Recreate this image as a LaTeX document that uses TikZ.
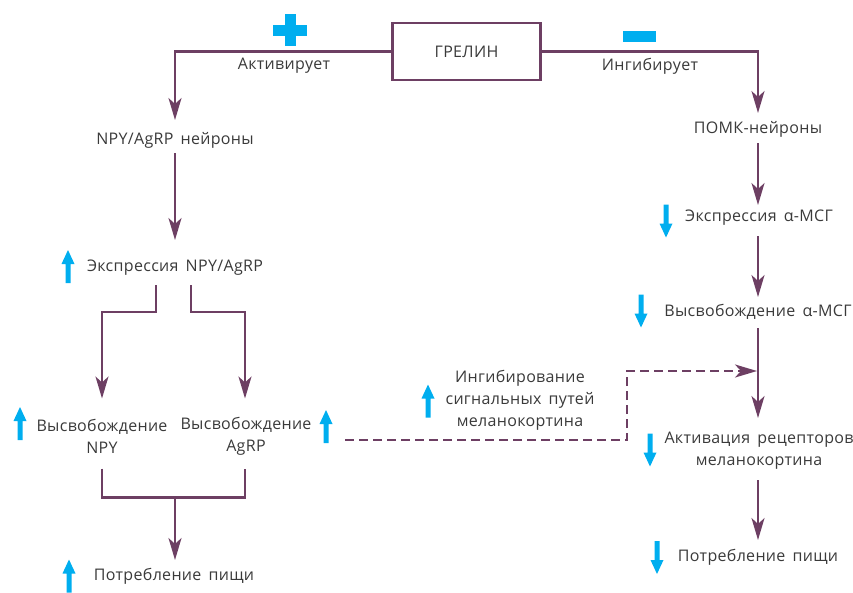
\documentclass[tikz,border=0pt]{standalone}
\usepackage{fontspec}
\setmainfont{Open Sans}[LetterSpace=2.0,WordSpace=1.6]
\usetikzlibrary{arrows.meta}
\definecolor{plum}{HTML}{6D3F63}
\definecolor{sky}{HTML}{00AEEF}
\definecolor{txt}{HTML}{3A3A3A}
\begin{document}
\begin{tikzpicture}[x=1pt,y=-1pt,
  lbl/.style={font=\fontsize{16}{22}\selectfont, text=txt, inner sep=0pt, align=center},
  flow/.style={draw=plum, line width=2.2pt, -{Stealth[length=22pt,width=13pt,inset=6pt]}},
  link/.style={draw=plum, line width=2.2pt},
  dashflow/.style={draw=plum, line width=2.4pt, dash pattern=on 9pt off 5pt, -{Stealth[length=22pt,width=13pt,inset=6pt]}},
  uparr/.pic={\fill[sky] (0,-16.5) -- (6.5,-2.5) -- (2.5,-2.5) -- (2.5,16.5) -- (-2.5,16.5) -- (-2.5,-2.5) -- (-6.5,-2.5) -- cycle;},
  downarr/.pic={\fill[sky] (0,16.5) -- (6.5,2.5) -- (2.5,2.5) -- (2.5,-16.5) -- (-2.5,-16.5) -- (-2.5,2.5) -- (-6.5,2.5) -- cycle;}
]
\useasboundingbox (0,0) rectangle (853,592);

% top
\node[lbl, draw=plum, line width=2.6pt, minimum width=148pt, minimum height=57pt] (ghrelin) at (466.5,51.5) {ГРЕЛИН};
\fill[sky] (273,25) rectangle (307,36);
\fill[sky] (284.5,14) rectangle (295.5,46);
\fill[sky] (623,31) rectangle (656,42);
\node[lbl] (act1) at (284,66) {Активирует};
\node[lbl] (inh1) at (650,66) {Ингибирует};

% left column
\node[lbl] (npy) at (175,140) {NPY/AgRP нейроны};
\node[lbl] (expL) at (175,268) {Экспрессия NPY/AgRP};
\node[lbl] (relNPY) at (102,436.5) {Высвобождение\\NPY};
\node[lbl] (relAgRP) at (246,436.5) {Высвобождение\\AgRP};
\node[lbl] (foodL) at (174,576) {Потребление пищи};

% right column
\node[lbl] (pomc) at (758,129) {ПОМК-нейроны};
\node[lbl] (expR) at (759,218) {Экспрессия α-МСГ};
\node[lbl] (relR) at (758,312) {Высвобождение α-МСГ};
\node[lbl] (act) at (759,451) {Активация рецепторов\\меланокортина};
\node[lbl] (foodR) at (758,557) {Потребление пищи};

% middle
\node[lbl] (inhib) at (520,400) {Ингибирование\\сигнальных путей\\меланокортина};

% cyan arrows
\pic at (68,266.5) {uparr};
\pic at (20,423.5) {uparr};
\pic at (326,426.5) {uparr};
\pic at (69,576) {uparr};
\pic at (428,401) {uparr};
\pic at (666,221) {downarr};
\pic at (641,311) {downarr};
\pic at (650,450) {downarr};
\pic at (657,557.5) {downarr};

% connectors
\draw[flow] (ghrelin.west) -| ([yshift=20pt]npy.center);
\draw[flow] (ghrelin.east) -| ([yshift=16pt]pomc.center);
\draw[flow] ([yshift=-13pt]npy.center) -- ([yshift=28pt]npy.center |- expL.center);
\draw[flow] ([yshift=-14pt]pomc.center) -- ([yshift=13pt]pomc.center |- expR.center);
\draw[flow] ([yshift=-18pt]relR.center |- expR.center) -- ([yshift=15pt]relR.center);
\draw[flow] ([yshift=-16pt]relR.center) -- ([yshift=33pt]relR.center |- act.center);
\draw[flow] ([yshift=-29pt]relR.center |- act.center) -- ([yshift=17pt]foodR.center);

\draw[flow] ([xshift=-19pt,yshift=-17pt]expL.center) -- ++(0,27) -| ([yshift=38pt]relNPY.center);
\draw[flow] ([xshift=16pt,yshift=-17pt]expL.center) -- ++(0,27) -| ([xshift=-1pt,yshift=38pt]relAgRP.center);

\draw[link] ([yshift=-32pt]relNPY.center) -- ++(0,29) coordinate (bl) -| ([xshift=-1pt,yshift=-32pt]relAgRP.center);
\coordinate (bmid) at (bl -| expL.center);
\draw[flow] (bmid) -- ([yshift=16pt]bmid |- foodL.center);

\coordinate (dstart) at (345,440);
\coordinate (dend) at (757,371);
\draw[dashflow] (dstart) -- ++(282,0) |- (dend);
\end{tikzpicture}
\end{document}
